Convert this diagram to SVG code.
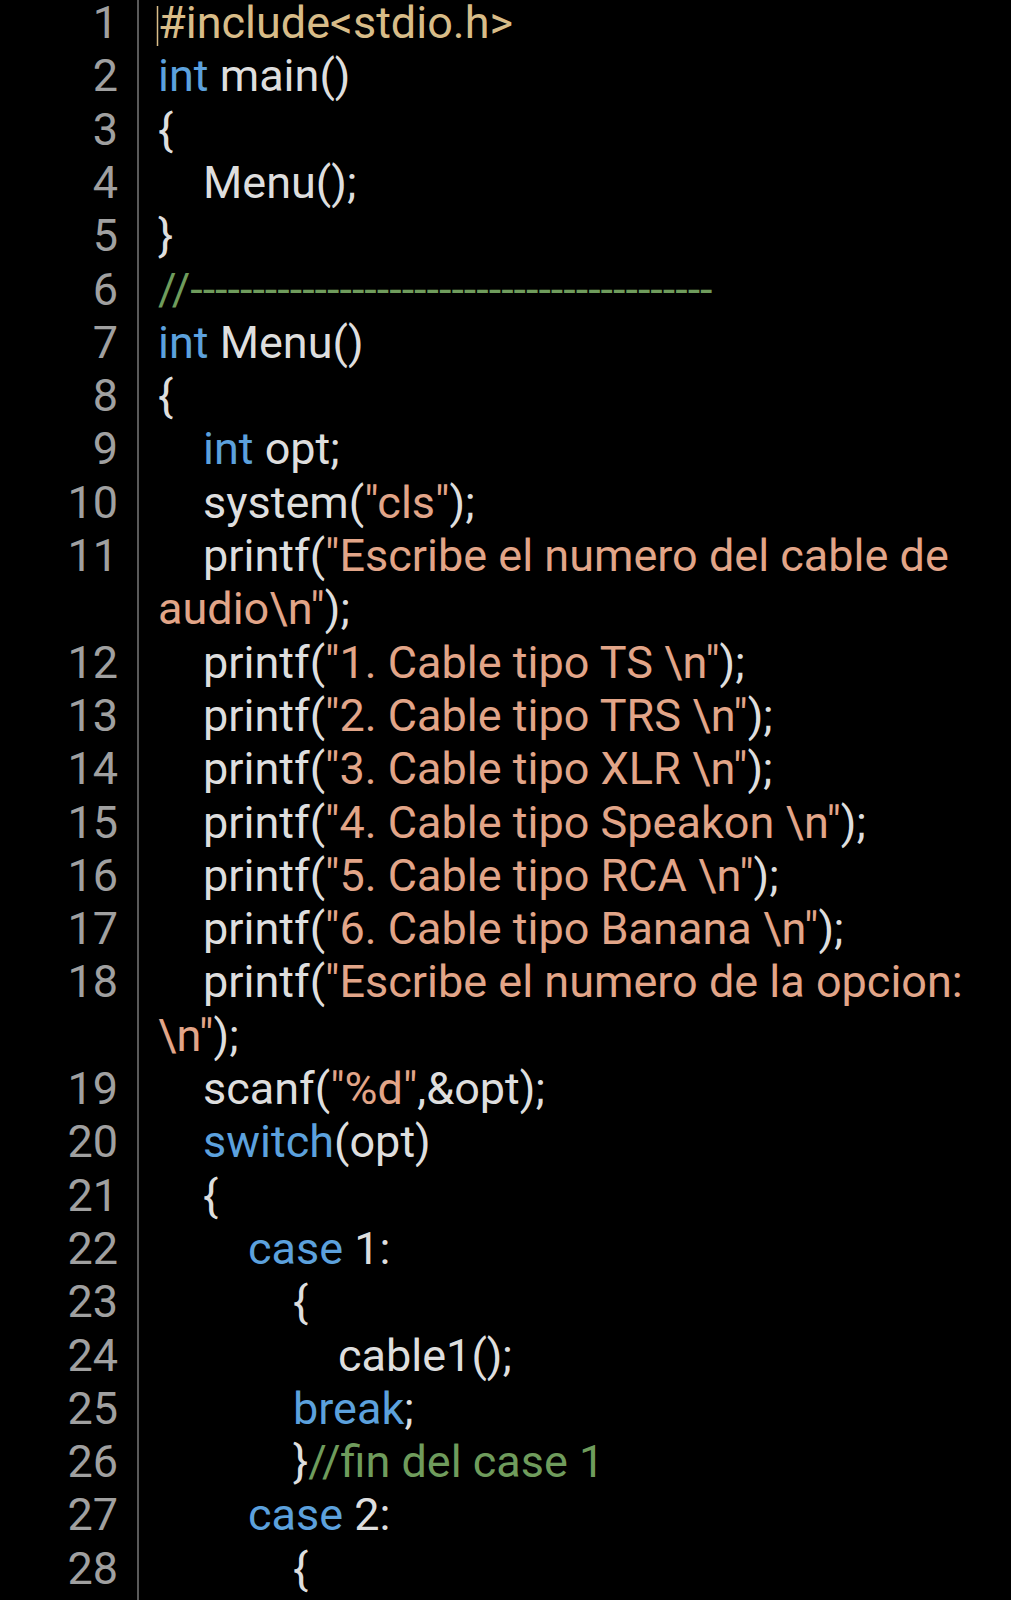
<svg xmlns="http://www.w3.org/2000/svg" width="1011" height="1600" viewBox="0 0 1011 1600">
<style>
text{font-family:Roboto,"Noto Sans",sans-serif;font-size:45px;fill:#dedede;white-space:pre}
.n{fill:#a0a0a0;text-anchor:end}
.k{fill:#5ca1dd}
.s{fill:#e2a588}
.p{fill:#d8bc88}
.c{fill:#6f9c5c}
</style>
<rect x="0" y="0" width="1011" height="1600" fill="#000"/>
<line x1="138" y1="0" x2="138" y2="1600" stroke="#5a5a5a" stroke-width="2"/>
<line x1="157.5" y1="6" x2="157.5" y2="46" stroke="#d8bc88" stroke-width="1.5"/>
<g id="gutter">
<text class="n" x="118" y="38">1</text>
<text class="n" x="118" y="91.3">2</text>
<text class="n" x="118" y="144.6">3</text>
<text class="n" x="118" y="197.9">4</text>
<text class="n" x="118" y="251.2">5</text>
<text class="n" x="118" y="304.5">6</text>
<text class="n" x="118" y="357.8">7</text>
<text class="n" x="118" y="411.1">8</text>
<text class="n" x="118" y="464.4">9</text>
<text class="n" x="118" y="517.7">10</text>
<text class="n" x="118" y="571">11</text>
<text class="n" x="118" y="677.6">12</text>
<text class="n" x="118" y="730.9">13</text>
<text class="n" x="118" y="784.2">14</text>
<text class="n" x="118" y="837.5">15</text>
<text class="n" x="118" y="890.8">16</text>
<text class="n" x="118" y="944.1">17</text>
<text class="n" x="118" y="997.4">18</text>
<text class="n" x="118" y="1104">19</text>
<text class="n" x="118" y="1157.3">20</text>
<text class="n" x="118" y="1210.6">21</text>
<text class="n" x="118" y="1263.9">22</text>
<text class="n" x="118" y="1317.2">23</text>
<text class="n" x="118" y="1370.5">24</text>
<text class="n" x="118" y="1423.8">25</text>
<text class="n" x="118" y="1477.1">26</text>
<text class="n" x="118" y="1530.4">27</text>
<text class="n" x="118" y="1583.7">28</text>
</g>
<g id="code">
<text x="158" y="38"><tspan class="p">#include&lt;stdio.h&gt;</tspan></text>
<text x="158" y="91.3"><tspan class="k">int</tspan> main()</text>
<text x="158" y="144.6">{</text>
<text x="203" y="197.9">Menu();</text>
<text x="158" y="251.2">}</text>
<text x="158" y="304.5" class="c">//------------------------------------------</text>
<text x="158" y="357.8"><tspan class="k">int</tspan> Menu()</text>
<text x="158" y="411.1">{</text>
<text x="203" y="464.4"><tspan class="k">int</tspan> opt;</text>
<text x="203" y="517.7">system(<tspan class="s">"cls"</tspan>);</text>
<text x="203" y="571">printf(<tspan class="s">"Escribe el numero del cable de</tspan></text>
<text x="158" y="624.3"><tspan class="s">audio\n"</tspan>);</text>
<text x="203" y="677.6">printf(<tspan class="s">"1. Cable tipo TS \n"</tspan>);</text>
<text x="203" y="730.9">printf(<tspan class="s">"2. Cable tipo TRS \n"</tspan>);</text>
<text x="203" y="784.2">printf(<tspan class="s">"3. Cable tipo XLR \n"</tspan>);</text>
<text x="203" y="837.5">printf(<tspan class="s">"4. Cable tipo Speakon \n"</tspan>);</text>
<text x="203" y="890.8">printf(<tspan class="s">"5. Cable tipo RCA \n"</tspan>);</text>
<text x="203" y="944.1">printf(<tspan class="s">"6. Cable tipo Banana \n"</tspan>);</text>
<text x="203" y="997.4">printf(<tspan class="s">"Escribe el numero de la opcion:</tspan></text>
<text x="158" y="1050.7"><tspan class="s">\n"</tspan>);</text>
<text x="203" y="1104">scanf(<tspan class="s">"%d"</tspan>,&amp;opt);</text>
<text x="203" y="1157.3"><tspan class="k">switch</tspan>(opt)</text>
<text x="203" y="1210.6">{</text>
<text x="248" y="1263.9"><tspan class="k">case</tspan> 1:</text>
<text x="293" y="1317.2">{</text>
<text x="338" y="1370.5">cable1();</text>
<text x="293" y="1423.8"><tspan class="k">break</tspan>;</text>
<text x="293" y="1477.1">}<tspan class="c">//fin del case 1</tspan></text>
<text x="248" y="1530.4"><tspan class="k">case</tspan> 2:</text>
<text x="293" y="1583.7">{</text>
</g>
</svg>
